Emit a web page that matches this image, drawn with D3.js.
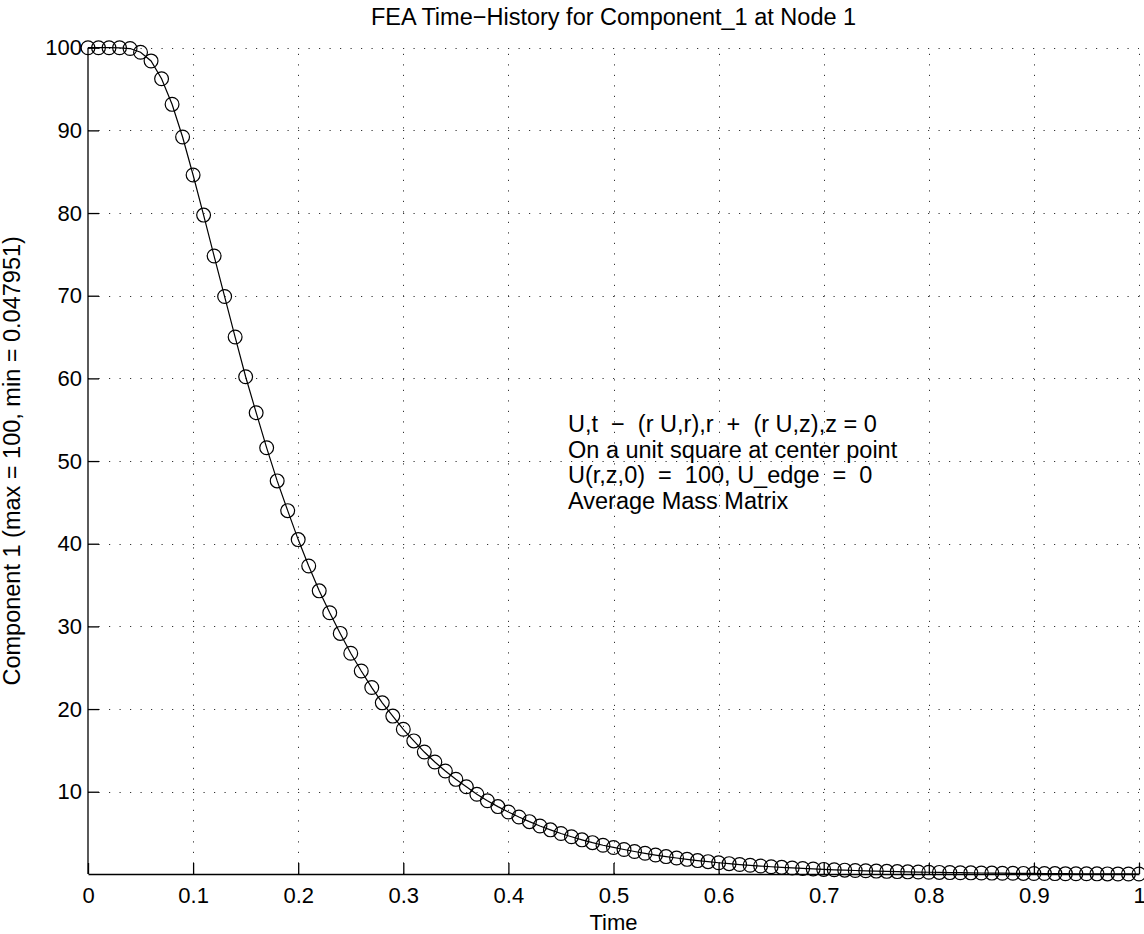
<!DOCTYPE html>
<html>
<head>
<meta charset="utf-8">
<script src="https://cdn.jsdelivr.net/npm/d3@7"></script>
<style>
  html, body { margin: 0; padding: 0; background: #fff; }
  svg { display: block; font-family: "Liberation Sans", Arial, Helvetica, sans-serif; }
  .note { white-space: pre; }
</style>
</head>
<body>
<svg id="chart" width="1144" height="934"></svg>
<script>
// FEA nodal time history: center node of a unit square, sampled every 0.01 s
const timeValues = [
  0.00, 0.01, 0.02, 0.03, 0.04, 0.05, 0.06, 0.07, 0.08, 0.09,
  0.10, 0.11, 0.12, 0.13, 0.14, 0.15, 0.16, 0.17, 0.18, 0.19,
  0.20, 0.21, 0.22, 0.23, 0.24, 0.25, 0.26, 0.27, 0.28, 0.29,
  0.30, 0.31, 0.32, 0.33, 0.34, 0.35, 0.36, 0.37, 0.38, 0.39,
  0.40, 0.41, 0.42, 0.43, 0.44, 0.45, 0.46, 0.47, 0.48, 0.49,
  0.50, 0.51, 0.52, 0.53, 0.54, 0.55, 0.56, 0.57, 0.58, 0.59,
  0.60, 0.61, 0.62, 0.63, 0.64, 0.65, 0.66, 0.67, 0.68, 0.69,
  0.70, 0.71, 0.72, 0.73, 0.74, 0.75, 0.76, 0.77, 0.78, 0.79,
  0.80, 0.81, 0.82, 0.83, 0.84, 0.85, 0.86, 0.87, 0.88, 0.89,
  0.90, 0.91, 0.92, 0.93, 0.94, 0.95, 0.96, 0.97, 0.98, 0.99,
  1.00
];

const component1 = [
  100, 100, 100, 99.99, 99.9, 99.45, 98.4, 96.25, 93.15, 89.2,
  84.6, 79.75, 74.8, 69.9, 65.0, 60.2, 55.85, 51.6, 47.6, 44.0,
  40.5, 37.3, 34.3, 31.65, 29.15, 26.75, 24.6, 22.6, 20.75, 19.15,
  17.55, 16.15, 14.8, 13.6, 12.5, 11.5, 10.6, 9.7, 8.9, 8.2,
  7.55, 6.94, 6.38, 5.86, 5.39, 4.95, 4.55, 4.18, 3.84, 3.53,
  3.26, 3.01, 2.77, 2.55, 2.34, 2.15, 1.98, 1.82, 1.67, 1.54,
  1.41, 1.30, 1.19, 1.10, 1.01, 0.926, 0.851, 0.782, 0.719, 0.661,
  0.607, 0.558, 0.513, 0.471, 0.433, 0.398, 0.366, 0.336, 0.309, 0.284,
  0.261, 0.240, 0.220, 0.203, 0.186, 0.171, 0.157, 0.145, 0.133, 0.122,
  0.112, 0.103, 0.095, 0.087, 0.080, 0.074, 0.068, 0.062, 0.057, 0.052,
  0.047951
];

const xTickValues = [0, 0.1, 0.2, 0.3, 0.4, 0.5, 0.6, 0.7, 0.8, 0.9, 1];
const xTickLabels = ["0", "0.1", "0.2", "0.3", "0.4", "0.5", "0.6", "0.7", "0.8", "0.9", "1"];
const yTickValues = [10, 20, 30, 40, 50, 60, 70, 80, 90, 100];
const yTickLabels = ["10", "20", "30", "40", "50", "60", "70", "80", "90", "100"];

const yMax = 100;
const yMin = 0.047951;

const titleText = "FEA Time\u2212History for Component_1 at Node 1";
const xLabelText = "Time";
const yLabelText = "Component 1  (max = 100, min = 0.047951)";
const noteLines = [
  "U,t  \u2212  (r U,r),r  +  (r U,z),z = 0",
  "On a unit square at center point",
  "U(r,z,0)  =  100, U_edge  =  0",
  "Average Mass Matrix"
];

// ---- layout ----
const plot = { left: 88, right: 1139, top: 47.7, bottom: 874 };
const tickFont = 22;
const textFont = 23.5;

const svg = d3.select("#chart");

const x = d3.scaleLinear().domain([0, 1]).range([plot.left, plot.right]);
const y = d3.scaleLinear().domain([yMin, yMax]).range([plot.bottom, plot.top]);

// dotted grid
const grid = svg.append("g")
  .attr("stroke", "#333")
  .attr("stroke-width", 1)
  .attr("stroke-dasharray", "1.2,9.3")
  .attr("fill", "none");

grid.selectAll("line.vx")
  .data(xTickValues.filter(v => v > 0))
  .join("line")
  .attr("class", "vx")
  .attr("x1", d => Math.round(x(d)) + 0.5)
  .attr("x2", d => Math.round(x(d)) + 0.5)
  .attr("y1", plot.bottom)
  .attr("y2", plot.top);

grid.selectAll("line.hy")
  .data(yTickValues)
  .join("line")
  .attr("class", "hy")
  .attr("y1", d => Math.round(y(d)) + 0.5)
  .attr("y2", d => Math.round(y(d)) + 0.5)
  .attr("x1", plot.left)
  .attr("x2", plot.right);

// axes with inward ticks
const xAxis = d3.axisBottom(x)
  .tickValues(xTickValues)
  .tickFormat((d, i) => xTickLabels[i])
  .tickSizeInner(-11)
  .tickSizeOuter(0)
  .tickPadding(13);

const yAxis = d3.axisLeft(y)
  .tickValues(yTickValues)
  .tickFormat((d, i) => yTickLabels[i])
  .tickSizeInner(-11)
  .tickSizeOuter(0)
  .tickPadding(6);

const gx = svg.append("g")
  .attr("transform", `translate(0,${plot.bottom})`)
  .call(xAxis);

const gy = svg.append("g")
  .attr("transform", `translate(${plot.left},0)`)
  .call(yAxis);

// y axis line spans from the data minimum up to 100
gy.select(".domain").attr("d", `M0,${plot.bottom}V${y(yMax)}`);

[gx, gy].forEach(g => {
  g.selectAll("path, line").attr("stroke", "#000").attr("stroke-width", 1.3);
  g.selectAll("text")
    .attr("fill", "#000")
    .style("font-family", "'Liberation Sans', Arial, sans-serif")
    .style("font-size", tickFont + "px");
});

// data line
const line = d3.line()
  .x((d, i) => x(timeValues[i]))
  .y(d => y(d));

svg.append("path")
  .datum(component1)
  .attr("d", line)
  .attr("fill", "none")
  .attr("stroke", "#000")
  .attr("stroke-width", 1.2);

// circle markers
svg.append("g")
  .selectAll("circle")
  .data(component1)
  .join("circle")
  .attr("cx", (d, i) => x(timeValues[i]))
  .attr("cy", d => y(d))
  .attr("r", 6.9)
  .attr("fill", "none")
  .attr("stroke", "#000")
  .attr("stroke-width", 1.2);

// title and axis labels
svg.append("text")
  .attr("x", (plot.left + plot.right) / 2)
  .attr("y", 25)
  .attr("text-anchor", "middle")
  .style("font-size", textFont + "px")
  .text(titleText);

svg.append("text")
  .attr("x", (plot.left + plot.right) / 2)
  .attr("y", 930)
  .attr("text-anchor", "middle")
  .style("font-size", tickFont + "px")
  .text(xLabelText);

svg.append("text")
  .attr("transform", `translate(20,${(plot.top + plot.bottom) / 2}) rotate(-90)`)
  .attr("text-anchor", "middle")
  .style("font-size", textFont + "px")
  .text(yLabelText);

// annotation block
svg.append("g")
  .selectAll("text")
  .data(noteLines)
  .join("text")
  .attr("class", "note")
  .attr("x", 568)
  .attr("y", (d, i) => 432 + i * 25.5)
  .style("font-size", textFont + "px")
  .text(d => d);
</script>
</body>
</html>
